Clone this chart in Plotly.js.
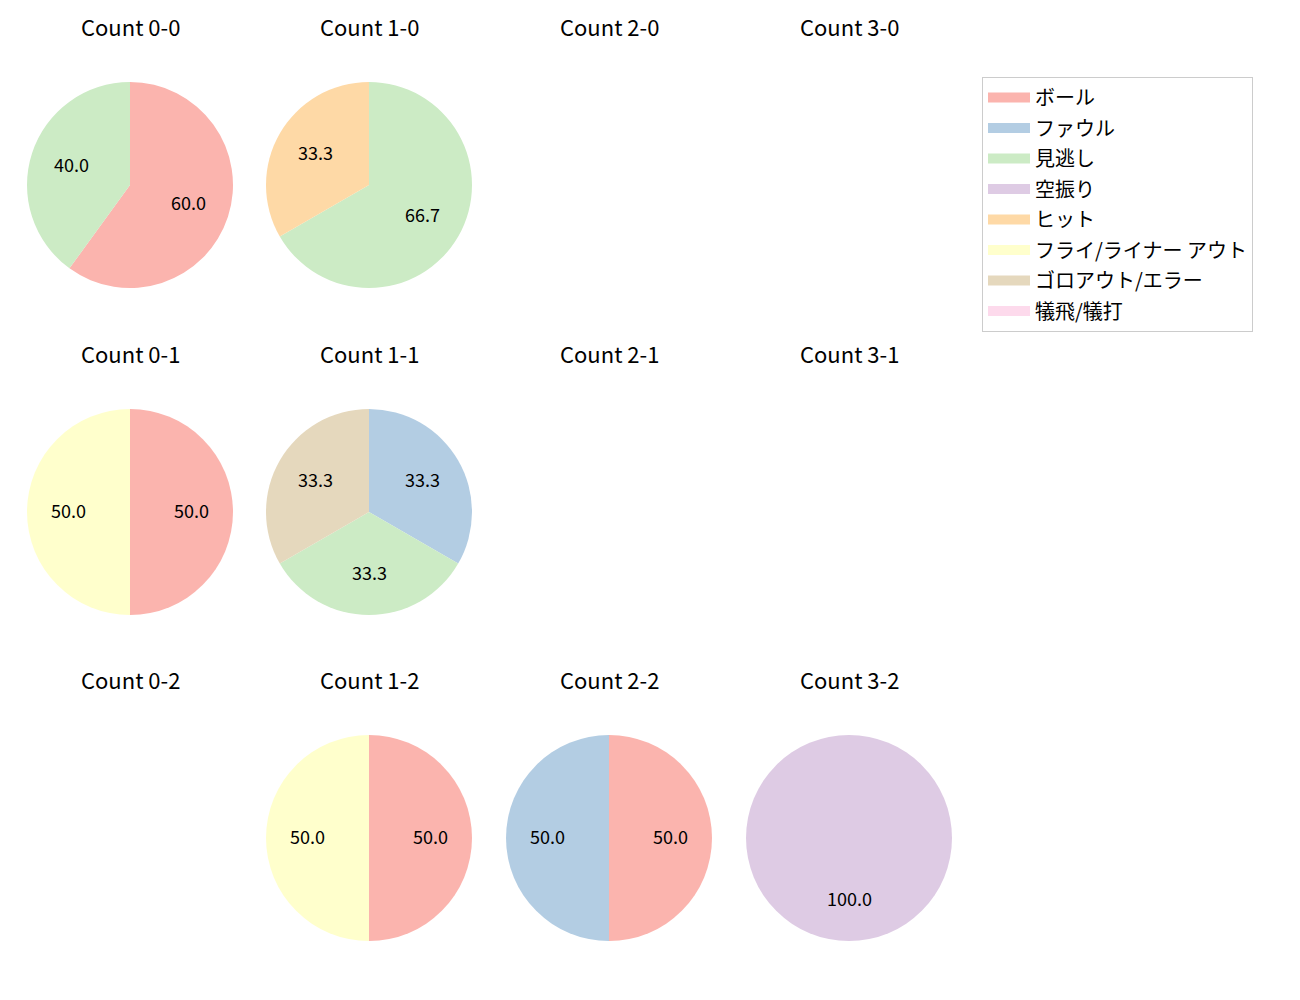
<!DOCTYPE html>
<html>
<head>
<meta charset="utf-8">
<script src="https://cdn.plot.ly/plotly-3.0.1.min.js"></script>
<style>html,body{margin:0;padding:0;background:#fff;}#chart{width:1300px;height:1000px;}</style>
</head>
<body>
<div id="chart"></div>
<script>
// ---- data ----
const categories = ['ボール','ファウル','見逃し','空振り','ヒット','フライ/ライナー アウト','ゴロアウト/エラー','犠飛/犠打'];
const colors = ['#fbb4ae','#b3cde3','#ccebc5','#decbe4','#fed9a6','#ffffcc','#e5d8bd','#fddaec'];
const countTitles = ['Count 0-0','Count 1-0','Count 2-0','Count 3-0',
                     'Count 0-1','Count 1-1','Count 2-1','Count 3-1',
                     'Count 0-2','Count 1-2','Count 2-2','Count 3-2'];
// values per category (same order as categories)
const count00 = [3,0,2,0,0,0,0,0];
const count10 = [0,0,2,0,1,0,0,0];
const count20 = null;
const count30 = null;
const count01 = [1,0,0,0,0,1,0,0];
const count11 = [0,1,1,0,0,0,1,0];
const count21 = null;
const count31 = null;
const count02 = null;
const count12 = [1,0,0,0,0,1,0,0];
const count22 = [1,1,0,0,0,0,0,0];
const count32 = [0,0,0,1,0,0,0,0];
const countValues = [count00,count10,count20,count30,count01,count11,count21,count31,count02,count12,count22,count32];

// ---- layout constants ----
const W = 1300, H = 1000;
const colX = [130, 369, 609, 849];
const rowY = [185, 512, 838];
const R = 103;
const FONT = '"Noto Sans CJK JP", "Noto Sans", sans-serif';

const traces = [];
const annotations = [];

countValues.forEach((vals, i) => {
  const cx = colX[i % 4], cy = rowY[Math.floor(i / 4)];
  annotations.push({
    text: countTitles[i], xref: 'paper', yref: 'paper',
    x: cx / W, y: 1 - (cy - 159) / H, xanchor: 'center', yanchor: 'middle',
    showarrow: false, font: {family: FONT, size: 22, color: '#000'}
  });
  if (!vals) return;
  const labs = [], v = [], c = [];
  vals.forEach((val, k) => { if (val > 0) { labs.push(categories[k]); v.push(val); c.push(colors[k]); } });
  traces.push({
    type: 'pie', labels: labs, values: v, marker: {colors: c, line: {width: 0}},
    sort: false, direction: 'clockwise', rotation: 0,
    textinfo: 'none', hoverinfo: 'label+percent', showlegend: false,
    domain: {x: [(cx - R) / W, (cx + R) / W], y: [1 - (cy + R) / H, 1 - (cy - R) / H]}
  });
  // percentage labels at 0.6 radius, mid-angle of each slice
  const total = v.reduce((a, b) => a + b, 0);
  let cum = 0;
  v.forEach(val => {
    const mid = (cum + val / 2) / total;
    cum += val;
    const theta = Math.PI / 2 - mid * 2 * Math.PI;
    const px = cx + 0.6 * R * Math.cos(theta);
    const py = cy - 0.6 * R * Math.sin(theta) - 2;
    annotations.push({
      text: (100 * val / total).toFixed(1), xref: 'paper', yref: 'paper',
      x: px / W, y: 1 - py / H, xanchor: 'center', yanchor: 'middle',
      showarrow: false, font: {family: FONT, size: 18, color: '#000'}
    });
  });
});

// legend entries
categories.forEach((name, k) => {
  traces.push({
    type: 'scatter', mode: 'lines', x: [null], y: [null], name: name,
    legendgroup: 'g' + k, showlegend: true, hoverinfo: 'skip',
    line: {color: colors[k], width: 15}
  });
});

const layout = {
  width: W, height: H,
  margin: {l: 0, r: 0, t: 0, b: 0},
  paper_bgcolor: '#fff', plot_bgcolor: '#fff',
  xaxis: {visible: false}, yaxis: {visible: false},
  showlegend: true,
  legend: {
    x: 982 / W, y: 1 - 77 / H, xanchor: 'left', yanchor: 'top',
    bgcolor: '#fff', bordercolor: '#cccccc', borderwidth: 1,
    font: {family: FONT, size: 20, color: '#000'},
    traceorder: 'grouped', tracegroupgap: 1.5, itemwidth: 42
  },
  annotations: annotations
};

Plotly.newPlot('chart', traces, layout, {displayModeBar: false, staticPlot: true});
</script>
</body>
</html>
